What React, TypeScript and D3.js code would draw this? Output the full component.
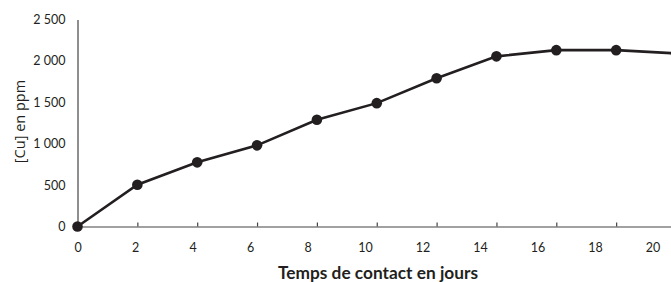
import React, { useEffect, useRef } from 'react'
import * as d3 from 'd3'

// contact time (days) and copper concentration (ppm)
const days = [0, 2, 4, 6, 8, 10, 12, 14, 16, 18, 20]
const cuPpm = [0, 505, 775, 980, 1290, 1490, 1790, 2055, 2130, 2130, 2090]
const xTicks = [0, 2, 4, 6, 8, 10, 12, 14, 16, 18, 20]
const yTicks = [0, 500, 1000, 1500, 2000, 2500]

const W = 671
const H = 282
const FONT = 'Lato, "Open Sans", sans-serif'

export default function App() {
  const ref = useRef<SVGSVGElement>(null)

  useEffect(() => {
    const svg = d3.select(ref.current)
    svg.selectAll('*').remove()

    const x = d3.scaleLinear().domain([0, 20]).range([77.5, 676])
    // the tick labels in the source sit slightly left of their ticks
    const xLabel = d3.scaleLinear().domain([0, 20]).range([78, 653])
    const y = d3.scaleLinear().domain([0, 2500]).range([226.5, 19.5])

    const loc = d3.formatLocale({ decimal: ',', thousands: ' ', grouping: [3], currency: ['', ''] })
    const fmt = loc.format(',')

    // x axis
    const xAxis = d3.axisBottom(x).tickValues(xTicks).tickSizeInner(-4).tickSizeOuter(0).tickFormat(() => '')
    const gx = svg.append('g').attr('transform', `translate(0,${y(0)})`).call(xAxis)
    gx.selectAll('path, line').attr('stroke', '#444').attr('stroke-width', 1.2)

    svg.append('g')
      .selectAll('text')
      .data(xTicks)
      .enter()
      .append('text')
      .attr('x', d => xLabel(d))
      .attr('y', 252)
      .attr('text-anchor', 'middle')
      .attr('font-family', FONT)
      .attr('font-size', 12.5)
      .attr('fill', '#231f20')
      .text(d => d)

    // y axis
    const yAxis = d3.axisLeft(y).tickValues(yTicks).tickSize(0).tickPadding(12).tickFormat(d => fmt(d as number))
    const gy = svg.append('g').attr('transform', `translate(${x(0)},0)`).call(yAxis)
    gy.select('path').attr('stroke', '#444').attr('stroke-width', 1.2)
    gy.selectAll('text').attr('font-family', FONT).attr('font-size', 12.5).attr('fill', '#231f20')

    // titles
    svg.append('text')
      .attr('x', 378)
      .attr('y', 279)
      .attr('text-anchor', 'middle')
      .attr('font-family', FONT)
      .attr('font-weight', 'bold')
      .attr('font-size', 17.3)
      .attr('fill', '#231f20')
      .text('Temps de contact en jours')

    svg.append('text')
      .attr('transform', 'translate(25,121.5) rotate(-90)')
      .attr('text-anchor', 'middle')
      .attr('font-family', '"Open Sans", sans-serif')
      .attr('font-size', 14.5)
      .attr('fill', '#231f20')
      .text('[Cu] en ppm')

    // data line and markers
    const pts = days.map((d, i) => [d, cuPpm[i]] as [number, number])
    const line = d3.line<[number, number]>().x(d => x(d[0])).y(d => y(d[1]))
    svg.append('path')
      .datum(pts)
      .attr('d', line)
      .attr('fill', 'none')
      .attr('stroke', '#231f20')
      .attr('stroke-width', 2.6)

    svg.append('g')
      .selectAll('circle')
      .data(pts)
      .enter()
      .append('circle')
      .attr('cx', d => x(d[0]))
      .attr('cy', d => y(d[1]))
      .attr('r', 5.3)
      .attr('fill', '#231f20')
  }, [])

  return (
    <svg
      ref={ref}
      width={W}
      height={H}
      style={{ position: 'absolute', left: 0, top: 0, background: '#fff' }}
    />
  )
}
